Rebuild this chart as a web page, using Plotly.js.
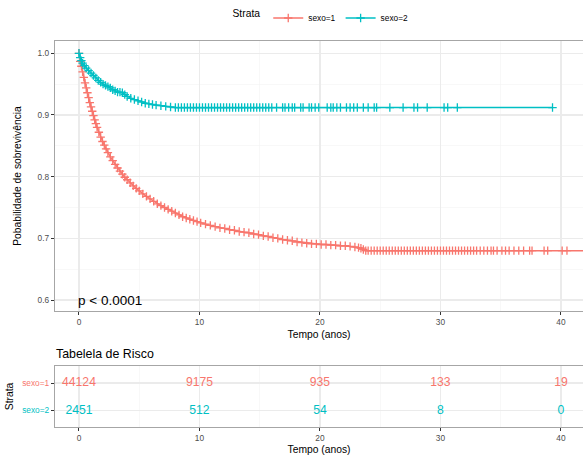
<!DOCTYPE html>
<html>
<head>
<meta charset="utf-8">
<script src="https://cdn.plot.ly/plotly-3.0.1.min.js"></script>
<style>html,body{margin:0;padding:0;background:#fff}#chart{width:583px;height:455px}</style>
</head>
<body>
<div id="chart"></div>
<script>
// ---------- DATA ----------
const strata = ['sexo=1', 'sexo=2'];
const colors = ['#F8766D', '#00BFC4'];

// sexo=1 survival curve (years, survival)
const t1_curve = [0, 0.1, 0.2, 0.3, 0.4, 0.5, 0.6, 0.7, 0.8, 0.9, 1.0, 1.1, 1.2, 1.3, 1.4, 1.5, 1.65, 1.8, 1.95, 2.1,
  2.25, 2.4, 2.6, 2.8, 3.0, 3.2, 3.4, 3.6, 3.8, 4.0, 4.25, 4.5, 4.75, 5.0, 5.3, 5.6, 5.9, 6.2, 6.5, 6.8,
  7.1, 7.4, 7.7, 8.0, 8.3, 8.6, 8.9, 9.2, 9.5, 9.8, 10.1, 10.5, 10.9, 11.3, 11.7, 12.1, 12.5, 12.9, 13.3, 13.7,
  14.1, 14.5, 14.9, 15.3, 15.7, 16.1, 16.5, 16.9, 17.3, 17.7, 18.1, 18.5, 18.9, 19.3, 19.7, 20.1, 20.5, 20.9, 21.3, 21.7,
  22.1, 22.5, 22.9, 23.2, 23.4, 23.6, 23.8];
const s1_curve = [1.000, 0.987, 0.979, 0.970, 0.961, 0.952, 0.944, 0.936, 0.928, 0.920, 0.913, 0.906, 0.899, 0.892, 0.886, 0.880, 0.872, 0.864, 0.857, 0.851,
  0.845, 0.839, 0.832, 0.826, 0.820, 0.814, 0.809, 0.804, 0.799, 0.795, 0.790, 0.785, 0.781, 0.777, 0.772, 0.768, 0.764, 0.760, 0.756, 0.753,
  0.750, 0.747, 0.744, 0.741, 0.738, 0.735, 0.733, 0.731, 0.729, 0.727, 0.725, 0.723, 0.721, 0.719, 0.717, 0.716, 0.714, 0.713, 0.711, 0.710,
  0.709, 0.707, 0.706, 0.704, 0.703, 0.701, 0.700, 0.698, 0.697, 0.696, 0.694, 0.693, 0.692, 0.691, 0.691, 0.690, 0.690, 0.689, 0.689, 0.688,
  0.688, 0.687, 0.686, 0.685, 0.684, 0.682, 0.680];
// sexo=1 plateau and censoring times on it
const s1_plateau = 0.680;
const t1_cens = [24.0, 24.25, 24.5, 24.75, 25.0, 25.25, 25.5, 25.75, 26.0, 26.25, 26.5, 26.75, 27.0, 27.25, 27.5, 27.75, 28.0, 28.25,
  28.5, 28.75, 29.0, 29.25, 29.5, 29.75, 30.0, 30.25, 30.5, 30.75, 31.0, 31.25, 31.5, 31.75, 32.0, 32.25, 32.5, 32.75,
  33.0, 33.3, 33.6, 33.9, 34.2,
  34.4, 34.7, 35.1, 35.4, 35.7, 36.1, 36.5, 36.9, 37.4, 37.6, 38.6, 38.9, 40.1, 40.5, 43.0];

// sexo=2 survival curve
const t2_curve = [0, 0.1, 0.2, 0.3, 0.45, 0.6, 0.8, 1.0, 1.2, 1.4, 1.6, 1.8, 2.0, 2.2, 2.4, 2.6, 2.8, 3.0, 3.2, 3.4,
  3.6, 3.8, 4.0, 4.3, 4.6, 4.9, 5.2, 5.5, 5.8, 6.1, 6.4, 6.8, 7.2, 7.6, 8.0];
const s2_curve = [1.000, 0.993, 0.988, 0.984, 0.980, 0.976, 0.972, 0.968, 0.964, 0.960, 0.956, 0.953, 0.950, 0.948, 0.946, 0.944, 0.941, 0.939, 0.937, 0.937,
  0.936, 0.933, 0.930, 0.927, 0.925, 0.923, 0.921, 0.919, 0.918, 0.917, 0.916, 0.915, 0.914, 0.913, 0.912];
const s2_plateau = 0.912;
const t2_cens = [8.25, 8.5, 8.75, 9.0, 9.25, 9.5, 9.75, 10.0, 10.25, 10.5, 10.75, 11.0, 11.25, 11.5, 11.75, 12.0, 12.25, 12.5,
  12.75, 13.0, 13.25, 13.5, 13.75, 14.0, 14.25, 14.5, 14.75, 15.0, 15.25, 15.5, 15.75, 16.0,
  16.4, 16.9, 17.1, 17.4, 17.7, 17.9, 18.4, 18.6, 19.1, 19.3, 19.6, 19.9, 20.6, 20.9, 21.1, 21.4, 21.7, 22.2,
  22.5, 22.8, 23.1, 23.6, 24.0, 24.5, 24.7, 25.8, 26.9, 27.8, 28.1, 28.9, 30.3, 30.6, 31.4, 39.3];

// risk table
const riskTimes = [0, 10, 20, 30, 40];
const risk1 = [44124, 9175, 935, 133, 19];
const risk2 = [2451, 512, 54, 8, 0];

const pvalText = 'p < 0.0001';
const xTicks = [0, 10, 20, 30, 40];
const yTicks = [0.6, 0.7, 0.8, 0.9, 1.0];

// ---------- BUILD ----------
const FONT = 'Liberation Sans, Arial, sans-serif';
const x1 = t1_curve.concat(t1_cens);
const y1 = s1_curve.concat(t1_cens.map(() => s1_plateau));
const x2 = t2_curve.concat(t2_cens);
const y2 = s2_curve.concat(t2_cens.map(() => s2_plateau));

function curve(x, y, name, color) {
  return {
    type: 'scatter', mode: 'lines+markers', x: x, y: y, name: name,
    xaxis: 'x', yaxis: 'y',
    line: {color: color, width: 1.5, shape: 'linear'},
    marker: {symbol: 'cross-thin', size: 6, color: color, line: {color: color, width: 1.3}},
    cliponaxis: true
  };
}
function riskRow(vals, cat, color) {
  return {
    type: 'scatter', mode: 'text', x: riskTimes, y: riskTimes.map(() => cat),
    text: vals.map(String), textposition: 'middle center',
    textfont: {family: FONT, size: 12.2, color: color},
    xaxis: 'x2', yaxis: 'y2', showlegend: false, hoverinfo: 'skip'
  };
}

const traces = [
  curve(x1, y1, strata[0], colors[0]),
  curve(x2, y2, strata[1], colors[1]),
  riskRow(risk1, strata[0], colors[0]),
  riskRow(risk2, strata[1], colors[1])
];

const W = 583, H = 455;
const px = v => v / W, py = v => 1 - v / H;
const XR = [-1.99, 41.83];
const axisCommon = {
  range: XR, tickvals: xTicks, ticktext: xTicks.map(String),
  ticks: 'outside', ticklen: 3, tickwidth: 1, tickcolor: '#333333',
  tickfont: {family: FONT, size: 8.3, color: '#4D4D4D'},
  showline: true, mirror: true, linecolor: '#A6A6A6', linewidth: 1.2,
  showgrid: true, gridcolor: '#EBEBEB', gridwidth: 1.1,
  minor: {dtick: 5, tick0: 0, showgrid: true, gridcolor: '#F3F3F3', gridwidth: 0.6, ticks: ''},
  zeroline: false, automargin: false, fixedrange: true
};

const layout = {
  width: W, height: H,
  margin: {l: 0, r: 0, t: 0, b: 0, pad: 0},
  paper_bgcolor: '#FFFFFF', plot_bgcolor: '#FFFFFF',
  font: {family: FONT, color: '#000000'},
  showlegend: true,
  legend: {
    orientation: 'h', x: px(322), xanchor: 'center', y: py(18), yanchor: 'middle',
    title: {text: 'Strata', side: 'left', font: {family: FONT, size: 10.3, color: '#000000'}},
    font: {family: FONT, size: 8.3, color: '#000000'},
    itemwidth: 30, bgcolor: 'rgba(0,0,0,0)', tracegroupgap: 0
  },
  xaxis: Object.assign({}, axisCommon, {
    domain: [px(55), 1], anchor: 'y',
    title: {text: 'Tempo (anos)', font: {family: FONT, size: 10.3, color: '#000000'}, standoff: 4}
  }),
  yaxis: {
    domain: [py(311), py(41)], anchor: 'x',
    range: [0.6 - 11 / 617, 1.0 + 12.3 / 617],
    tickvals: yTicks, ticktext: yTicks.map(v => v.toFixed(1)),
    ticks: 'outside', ticklen: 3, tickwidth: 1, tickcolor: '#333333',
    tickfont: {family: FONT, size: 8.3, color: '#4D4D4D'},
    showline: true, mirror: true, linecolor: '#A6A6A6', linewidth: 1.2,
    showgrid: true, gridcolor: '#EBEBEB', gridwidth: 1.1,
    minor: {dtick: 0.05, tick0: 0, showgrid: true, gridcolor: '#F3F3F3', gridwidth: 0.6, ticks: ''},
    zeroline: false, automargin: false, fixedrange: true,
    title: {text: 'Pobabilidade de sobrevivência', font: {family: FONT, size: 10.3, color: '#000000'}, standoff: 14}
  },
  xaxis2: Object.assign({}, axisCommon, {
    domain: [px(55), 1], anchor: 'y2',
    title: {text: 'Tempo (anos)', font: {family: FONT, size: 10.3, color: '#000000'}, standoff: 4}
  }),
  yaxis2: {
    domain: [py(427), py(366)], anchor: 'x2',
    type: 'category', categoryorder: 'array', categoryarray: [strata[1], strata[0]],
    range: [-0.6, 1.62],
    tickvals: [strata[0], strata[1]],
    ticktext: strata.map((s, i) => '<span style="color:' + colors[i] + '">' + s + '</span>'),
    ticks: 'outside', ticklen: 3, tickwidth: 1, tickcolor: '#333333',
    tickfont: {family: FONT, size: 8.3, color: '#4D4D4D'},
    showline: true, mirror: true, linecolor: '#A6A6A6', linewidth: 1.2,
    showgrid: true, gridcolor: '#EBEBEB', gridwidth: 1.1,
    zeroline: false, automargin: false, fixedrange: true,
    title: {text: 'Strata', font: {family: FONT, size: 10.3, color: '#000000'}, standoff: 6}
  },
  annotations: [
    {xref: 'x', yref: 'y', x: -0.25, y: 0.6, xanchor: 'left', yanchor: 'middle', showarrow: false,
     text: pvalText, font: {family: FONT, size: 13.5, color: '#000000'}},
    {xref: 'paper', yref: 'paper', x: px(54), y: py(354), xanchor: 'left', yanchor: 'middle', showarrow: false,
     text: 'Tabelela de Risco', font: {family: FONT, size: 12.4, color: '#000000'}}
  ]
};

Plotly.newPlot('chart', traces, layout, {displayModeBar: false, staticPlot: true});
</script>
</body>
</html>
